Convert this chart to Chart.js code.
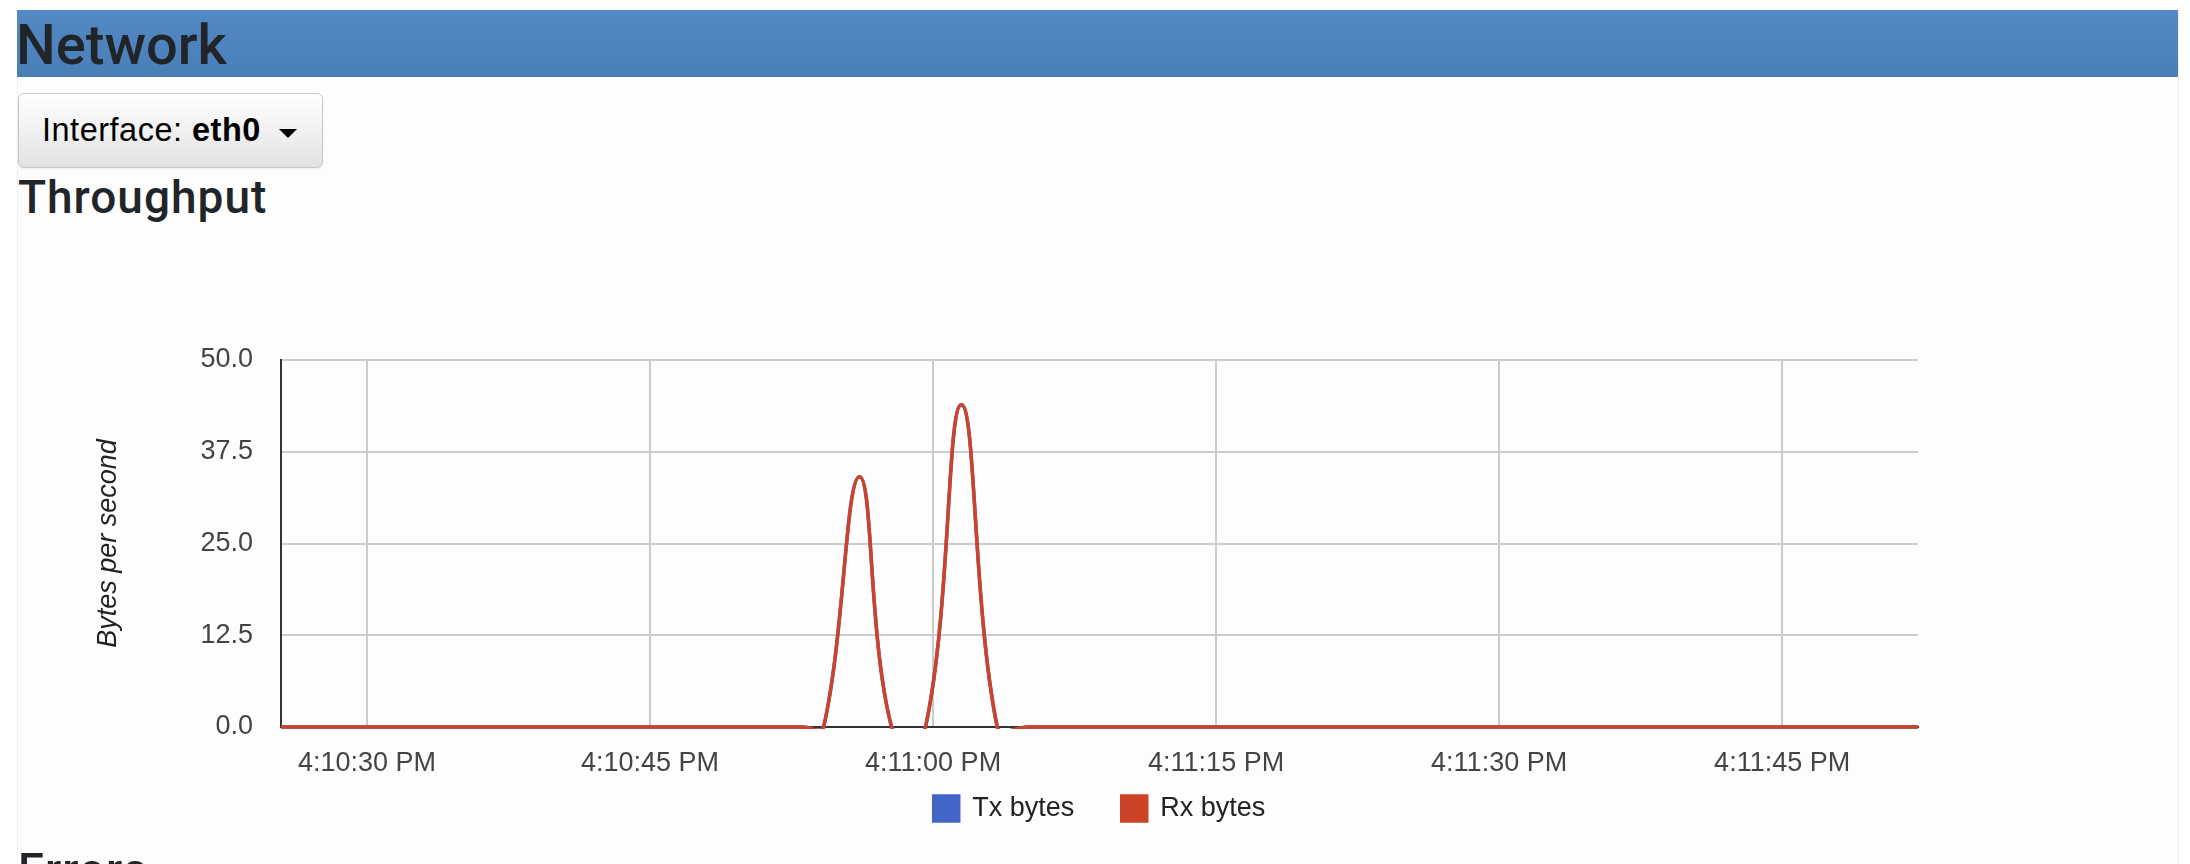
<!DOCTYPE html>
<html>
<head>
<meta charset="utf-8">
<title>Network</title>
<script src="https://cdn.jsdelivr.net/npm/chart.js@4/dist/chart.umd.min.js"></script>
<style>
  html, body { margin: 0; padding: 0; background: #fff; }
  body { width: 2190px; height: 864px; overflow: hidden; position: relative;
         font-family: "Liberation Sans", Arial, sans-serif; color: #212529; }
  .panel { position: absolute; left: 17px; top: 10px; width: 2160px; height: 900px;
           background: #fdfdfd; border-left: 1px solid #f0f0f0; border-right: 1px solid #f0f0f0; }
  .band { position: absolute; left: 17px; top: 10px; width: 2161px; height: 67px;
          background: linear-gradient(#5389c4, #4a7eb7); }
  .band h1 { margin: 0; position: absolute; left: -1px; top: 2px; font-family: Roboto, "Liberation Sans", sans-serif;
             font-size: 56px; line-height: 67px; font-weight: 500; color: #212529; }
  .btn { position: absolute; left: 18px; top: 93px; width: 303px; height: 73px;
         border: 1px solid #c8c8c8; border-radius: 6px;
         background: linear-gradient(#ffffff, #e2e2e2); box-shadow: 0 1px 2px rgba(0,0,0,0.08); }
  .btn span.lbl { position: absolute; left: 23px; top: 0; line-height: 73px; font-size: 32.5px;
                  letter-spacing: 0.5px; color: #000; }
  .btn span.lbl b { font-weight: bold; }
  .caret { position: absolute; left: 260px; top: 35px; width: 0; height: 0;
           border-left: 9px solid transparent; border-right: 9px solid transparent; border-top: 9px solid #000; }
  h2 { margin: 0; position: absolute; left: 18px; font-family: Roboto, "Liberation Sans", sans-serif;
       font-size: 46px; font-weight: 500; line-height: 50px; letter-spacing: 1px; color: #212529; }
  #chart { position: absolute; left: 17px; top: 230px; }
</style>
</head>
<body>
<div class="panel"></div>
<div class="band"><h1>Network</h1></div>
<div class="btn"><span class="lbl">Interface: <b>eth0</b></span><span class="caret"></span></div>
<h2 style="top: 172px;">Throughput</h2>
<canvas id="chart" width="2161" height="620"></canvas>
<h2 style="top: 845px;">Errors</h2>

<script>
/* ── data (x = seconds after 4:10:00 PM) ── */
const sampleSeconds = [25.4, 30.0, 35.0, 40.0, 45.0, 50.0, 53.1, 54.2, 56.1, 57.8, 59.6, 61.5, 63.4, 65.0, 70.0, 75.0, 80.0, 85.0, 90.0, 95.0, 100.0, 105.0, 110.0, 112.3];
// Tx sits exactly under Rx in the picture (never visible on its own)
const txBytes       = [0, 0, 0, 0, 0, 0, 0, 0, 34.1, 0, 0, 43.9, 0, 0, 0, 0, 0, 0, 0, 0, 0, 0, 0, 0];
const rxBytes       = [0, 0, 0, 0, 0, 0, 0, 0, 34.1, 0, 0, 43.9, 0, 0, 0, 0, 0, 0, 0, 0, 0, 0, 0, 0];
const tickSeconds   = [30, 45, 60, 75, 90, 105];
const tickLabels    = ['4:10:30 PM', '4:10:45 PM', '4:11:00 PM', '4:11:15 PM', '4:11:30 PM', '4:11:45 PM'];
const seriesNames   = ['Tx bytes', 'Rx bytes'];
const yTicks        = [0, 12.5, 25, 37.5, 50];

const COLORS = { tx: '#4166c7', rx: '#cc4327' };

Chart.defaults.font.family = '"Liberation Sans", Arial, sans-serif';

function toPoints(values) {
  return sampleSeconds.map((s, i) => ({ x: s, y: values[i] }));
}

/* legend items: keep dataset order, widen the gap after the first one */
function legendLabels(chart) {
  return Chart.defaults.plugins.legend.labels.generateLabels(chart).map((item) => {
    if (item.datasetIndex === 0) item.text = item.text + '     ';
    return item;
  });
}

function lineDataset(label, values, color, order) {
  return {
    label,
    data:            toPoints(values),
    borderColor:     color,
    backgroundColor: color,
    borderWidth:     3.5,
    pointRadius:     0,
    tension:         0.4,
    clip:            { left: 0, top: 2, right: 0, bottom: 2 },
    order,
  };
}

new Chart(document.getElementById('chart'), {
  type: 'line',
  data: {
    datasets: [
      lineDataset(seriesNames[0], txBytes, COLORS.tx, 1),
      lineDataset(seriesNames[1], rxBytes, COLORS.rx, 0),
    ],
  },
  options: {
    responsive:       false,
    animation:        false,
    capBezierPoints:  false,
    layout: { padding: { top: 130, right: 260, left: 0, bottom: 18 } },
    plugins: {
      tooltip: { enabled: false },
      legend: {
        position: 'bottom',
        fullSize: false,
        labels: {
          boxWidth:       25,
          boxHeight:      25,
          padding:        10,
          color:          '#222',
          font:           { size: 27 },
          generateLabels: legendLabels,
          sort:           (a, b) => a.datasetIndex - b.datasetIndex,
        },
      },
    },
    scales: {
      x: {
        type: 'linear',
        min:  25.44,
        max:  112.2,
        afterBuildTicks: (s) => { s.ticks = tickSeconds.map(v => ({ value: v })); },
        afterFit: (s) => { s.height = 58; },
        grid:   { color: '#cccccc', lineWidth: 2, drawTicks: false },
        border: { color: '#333333', width: 2 },
        ticks: {
          color:       '#444',
          font:        { size: 27 },
          padding:     20,
          maxRotation: 0,
          autoSkip:    false,
          callback:    (v, i) => tickLabels[i],
        },
      },
      y: {
        min: 0,
        max: 50,
        afterBuildTicks: (s) => { s.ticks = yTicks.map(v => ({ value: v })); },
        afterFit: (s) => { s.width = 264; },
        grid:   { color: '#cccccc', lineWidth: 2, drawTicks: false },
        border: { color: '#333333', width: 2 },
        ticks: {
          color:    '#444',
          font:     { size: 27 },
          padding:  28,
          callback: (v) => v.toFixed(1),
        },
        title: {
          display: true,
          text:    'Bytes per second',
          color:   '#222',
          font:    { size: 27, style: 'italic' },
          padding: { top: 75, bottom: 0 },
        },
      },
    },
  },
});
</script>
</body>
</html>
